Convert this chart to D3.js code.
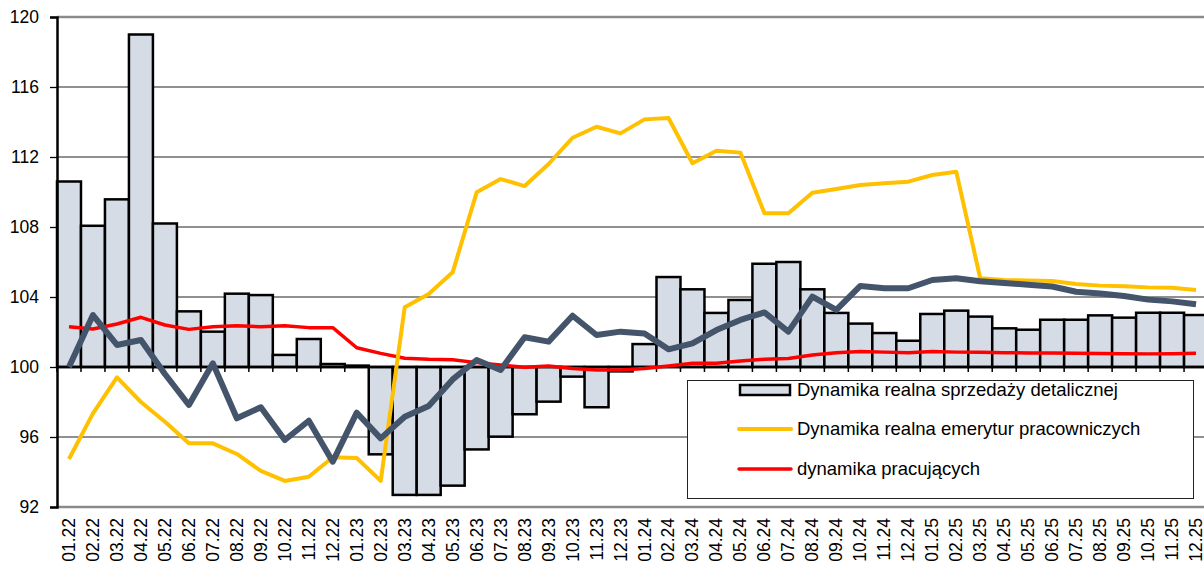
<!DOCTYPE html>
<html>
<head>
<meta charset="utf-8">
<script src="https://cdn.jsdelivr.net/npm/d3@7"></script>
<style>
  body { margin: 0; background: #fff; }
  text { font-family: "Liberation Sans", Arial, sans-serif; fill: #000; }
</style>
</head>
<body>
<script>
// months 01.22 .. 12.25
var months = ["01.22","02.22","03.22","04.22","05.22","06.22","07.22","08.22","09.22","10.22","11.22","12.22",
              "01.23","02.23","03.23","04.23","05.23","06.23","07.23","08.23","09.23","10.23","11.23","12.23",
              "01.24","02.24","03.24","04.24","05.24","06.24","07.24","08.24","09.24","10.24","11.24","12.24",
              "01.25","02.25","03.25","04.25","05.25","06.25","07.25","08.25","09.25","10.25","11.25","12.25"];

// bars - dynamika realna sprzedazy detalicznej
var sprzedaz = [110.6,108.07,109.58,119.0,108.2,103.18,102.02,104.19,104.11,100.69,101.6,100.17,
                100.08,95.01,92.69,92.69,93.22,95.29,96.02,97.3,98.02,99.45,97.7,99.75,
                101.31,105.14,104.44,103.09,103.83,105.9,106.0,104.44,103.09,102.48,101.94,101.5,
                103.03,103.22,102.88,102.21,102.13,102.7,102.7,102.95,102.82,103.1,103.1,102.97];

// yellow - dynamika realna emerytur pracowniczych
var emerytury = [94.74,97.35,99.41,98.0,96.87,95.64,95.64,95.03,94.06,93.49,93.73,94.84,
                 94.8,93.49,103.41,104.17,105.41,109.98,110.74,110.34,111.6,113.1,113.73,113.35,
                 114.15,114.23,111.64,112.36,112.25,108.78,108.78,109.96,110.17,110.4,110.5,110.59,
                 110.97,111.16,105.07,104.97,104.95,104.91,104.74,104.65,104.62,104.55,104.53,104.4];

// red - dynamika pracujacych
var pracujacy = [102.3,102.17,102.46,102.84,102.4,102.15,102.3,102.36,102.3,102.36,102.25,102.25,
                 101.1,100.78,100.5,100.44,100.42,100.25,100.11,99.98,100.06,99.92,99.83,99.83,
                 99.92,100.06,100.21,100.21,100.34,100.44,100.48,100.69,100.82,100.88,100.85,100.82,
                 100.88,100.85,100.84,100.82,100.8,100.8,100.78,100.77,100.76,100.75,100.76,100.78];

// dark line (no legend entry)
var ciemna = [100.0,102.97,101.26,101.54,99.6,97.83,100.21,97.07,97.7,95.83,96.93,94.59,
              97.39,95.92,97.16,97.77,99.29,100.4,99.83,101.7,101.45,102.93,101.83,102.02,
              101.92,101.01,101.35,102.11,102.69,103.12,102.02,104.02,103.26,104.63,104.5,104.5,
              104.97,105.07,104.9,104.8,104.7,104.6,104.3,104.2,104.06,103.85,103.75,103.58];

var yTicks = [92,96,100,104,108,112,116,120];

var legendLabels = ["Dynamika realna sprzedaży detalicznej",
                    "Dynamika realna emerytur pracowniczych",
                    "dynamika pracujących"];

drawChart();

function drawChart(){
    var width = 1204, height = 567;
    var plotLeft = 57, plotTop = 17, plotBottom = 507;
    var step = 23.98;

    var svg = d3.select("body").append("svg")
        .attr("width", width)
        .attr("height", height);

    var x = d3.scaleBand()
        .domain(months)
        .range([plotLeft, plotLeft + months.length * step])
        .padding(0);

    var y = d3.scaleLinear()
        .domain([92, 120])
        .range([plotBottom, plotTop]);

    //gridlines
    svg.selectAll(".grid")
        .data(yTicks.filter(function(d){ return d != 92 && d != 100 && d != 120; }))
        .enter().append("line")
        .attr("x1", plotLeft).attr("x2", x.range()[1])
        .attr("y1", function(d){ return y(d); })
        .attr("y2", function(d){ return y(d); })
        .attr("stroke", "#222")
        .attr("stroke-width", 1.2);

    //top and bottom frame lines (grey)
    svg.selectAll(".frame")
        .data([92, 120])
        .enter().append("line")
        .attr("x1", plotLeft).attr("x2", x.range()[1])
        .attr("y1", function(d){ return y(d); })
        .attr("y2", function(d){ return y(d); })
        .attr("stroke", "#8a8a8a")
        .attr("stroke-width", 2.5);

    //bars from 100
    svg.selectAll(".bar")
        .data(sprzedaz)
        .enter().append("rect")
        .attr("x", function(d, i){ return x(months[i]); })
        .attr("width", x.bandwidth())
        .attr("y", function(d){ return y(Math.max(d, 100)); })
        .attr("height", function(d){ return Math.abs(y(d) - y(100)); })
        .attr("fill", "#d6dce5")
        .attr("stroke", "#000")
        .attr("stroke-width", 2.5);

    //baseline at 100
    svg.append("line")
        .attr("x1", plotLeft).attr("x2", x.range()[1])
        .attr("y1", y(100)).attr("y2", y(100))
        .attr("stroke", "#000").attr("stroke-width", 2.5);

    //ticks at category boundaries
    svg.selectAll(".xtick")
        .data(months)
        .enter().append("line")
        .attr("x1", function(d){ return x(d); })
        .attr("x2", function(d){ return x(d); })
        .attr("y1", y(100)).attr("y2", y(100) + 5)
        .attr("stroke", "#000").attr("stroke-width", 1.5);

    //x labels at bottom, rotated
    svg.selectAll(".xlab")
        .data(months)
        .enter().append("text")
        .attr("transform", function(d){
            return "translate(" + (x(d) + x.bandwidth() / 2 + 6) + "," + (plotBottom + 11) + ") rotate(-90)";
        })
        .attr("text-anchor", "end")
        .style("font-size", "17.5px")
        .text(function(d){ return d; });

    //left axis
    var yAxis = d3.axisLeft(y).tickValues(yTicks).tickSize(7).tickPadding(11);
    var ya = svg.append("g")
        .attr("transform", "translate(" + plotLeft + ",0)")
        .call(yAxis);
    ya.select(".domain").attr("stroke", "#000").attr("stroke-width", 2.5);
    ya.selectAll(".tick line").attr("stroke", "#000").attr("stroke-width", 1.3);
    ya.selectAll(".tick text")
        .style("font-size", "17.5px")
        .style("font-family", "Liberation Sans, Arial, sans-serif")
        .attr("fill", "#000");

    //lines
    var line = d3.line()
        .x(function(d, i){ return x(months[i]) + x.bandwidth() / 2; })
        .y(function(d){ return y(d); });

    svg.append("path")
        .datum(pracujacy)
        .attr("d", line)
        .attr("fill", "none")
        .attr("stroke", "#ff0000")
        .attr("stroke-width", 3.5)
        .attr("stroke-linejoin", "round");

    svg.append("path")
        .datum(emerytury)
        .attr("d", line)
        .attr("fill", "none")
        .attr("stroke", "#ffc000")
        .attr("stroke-width", 4)
        .attr("stroke-linejoin", "round");

    svg.append("path")
        .datum(ciemna)
        .attr("d", line)
        .attr("fill", "none")
        .attr("stroke", "#44546a")
        .attr("stroke-width", 6)
        .attr("stroke-linejoin", "round");

    //legend
    var lg = svg.append("g");
    lg.append("rect")
        .attr("x", 687.5).attr("y", 380.5)
        .attr("width", 506).attr("height", 118)
        .attr("fill", "#fff")
        .attr("stroke", "#222")
        .attr("stroke-width", 1);

    var rowY = [390, 429, 469];
    lg.append("rect")
        .attr("x", 740).attr("y", rowY[0] - 5)
        .attr("width", 50).attr("height", 10)
        .attr("fill", "#d6dce5")
        .attr("stroke", "#000")
        .attr("stroke-width", 2.5);
    lg.append("line")
        .attr("x1", 739).attr("x2", 791)
        .attr("y1", rowY[1]).attr("y2", rowY[1])
        .attr("stroke", "#ffc000").attr("stroke-width", 4).attr("stroke-linecap", "round");
    lg.append("line")
        .attr("x1", 739).attr("x2", 791)
        .attr("y1", rowY[2]).attr("y2", rowY[2])
        .attr("stroke", "#ff0000").attr("stroke-width", 3.5).attr("stroke-linecap", "round");

    lg.selectAll(".ltext")
        .data(legendLabels)
        .enter().append("text")
        .attr("x", 797)
        .attr("y", function(d, i){ return rowY[i]; })
        .attr("dy", "0.35em")
        .style("font-size", "18.5px")
        .text(function(d){ return d; });
}
</script>
</body>
</html>
